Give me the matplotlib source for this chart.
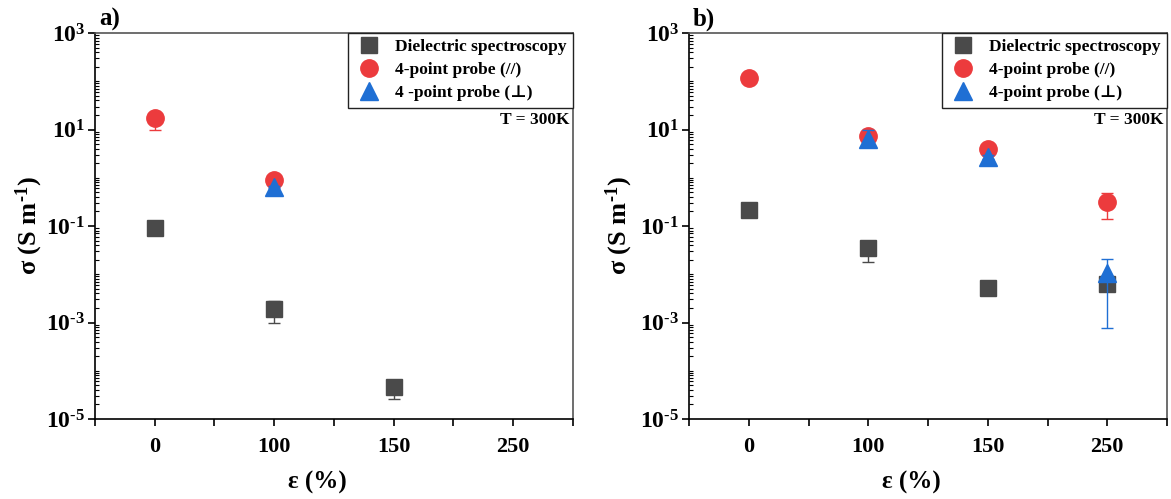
import matplotlib as mpl
mpl.use('Agg')
import matplotlib.pyplot as plt
from matplotlib.ticker import LogLocator, NullFormatter, FixedLocator
from matplotlib.lines import Line2D
import numpy as np

plt.rcParams['font.family'] = ['Liberation Serif', 'DejaVu Serif']
plt.rcParams['font.weight'] = 'bold'
plt.rcParams['mathtext.fontset'] = 'custom'
plt.rcParams['mathtext.rm'] = 'Liberation Serif:bold'
plt.rcParams['mathtext.it'] = 'Liberation Serif:bold'
plt.rcParams['mathtext.bf'] = 'Liberation Serif:bold'
plt.rcParams['mathtext.default'] = 'bf'

strain = ['0', '100', '150', '250']
nan = np.nan

# panel a) value, lower end, upper end of error bar
a_diel = [0.093, 0.0019, 4.7e-5, nan]
a_diel_lo = [0.066, 0.00098, 2.6e-5, nan]
a_diel_hi = [0.10, 0.0028, 5.0e-5, nan]
a_par = [17.5, 0.9, nan, nan]
a_par_lo = [9.9, 0.85, nan, nan]
a_par_hi = [18.5, 0.95, nan, nan]
a_perp = [nan, 0.63, nan, nan]
a_perp_lo = [nan, 0.6, nan, nan]
a_perp_hi = [nan, 0.66, nan, nan]

# panel b)
b_diel = [0.22, 0.035, 0.0051, 0.0062]
b_diel_lo = [0.21, 0.018, 0.0050, 0.0060]
b_diel_hi = [0.25, 0.04, 0.0052, 0.0064]
b_par = [117, 7.4, 4.0, 0.31]
b_par_lo = [115, 6.0, 3.0, 0.138]
b_par_hi = [120, 8.0, 4.3, 0.48]
b_perp = [nan, 6.4, 2.7, 0.0105]
b_perp_lo = [nan, 5.5, 2.5, 0.00076]
b_perp_hi = [nan, 10.0, 3.0, 0.0204]

gray = '#4a4a4a'
red = '#ec3b3d'
blue = '#1f6fd4'
H = '\u2010'  # short hyphen used in superscripts


def errs(v, lo, hi):
    v = np.array(v)
    return [v - np.array(lo), np.array(hi) - v]


def panel(ax, diel, par, perp, tag, labels, ylab_x):
    x = np.arange(len(strain))
    ax.errorbar(x, diel[0], yerr=errs(*diel), fmt='s', color=gray, ms=11,
                capsize=4, elinewidth=1, capthick=1, zorder=3)
    ax.errorbar(x, par[0], yerr=errs(*par), fmt='o', color=red, ms=12.5,
                capsize=4, elinewidth=1, capthick=1, zorder=4)
    ax.errorbar(x, perp[0], yerr=errs(*perp), fmt='^', color=blue, ms=13,
                capsize=4, elinewidth=1, capthick=1, zorder=5)
    ax.set_yscale('log')
    ax.set_ylim(1e-5, 1e3)
    ax.set_xlim(-0.5, 3.5)
    ax.set_xticks(x)
    ax.set_xticklabels(strain, fontsize=16, fontweight='bold')
    ax.xaxis.set_minor_locator(FixedLocator([-0.5, 0.5, 1.5, 2.5, 3.5]))
    ax.tick_params(axis='x', which='both', direction='out', length=5, width=1.2, pad=8)
    ax.set_yticks([1e-5, 1e-3, 1e-1, 1e1, 1e3])
    ax.set_yticklabels(['$10^{%s5}$' % H, '$10^{%s3}$' % H, '$10^{%s1}$' % H,
                        '$10^{1}$', '$10^{3}$'], fontsize=17)
    ax.yaxis.set_minor_locator(LogLocator(base=10, subs=np.arange(1, 10), numticks=50))
    ax.yaxis.set_minor_formatter(NullFormatter())
    ax.tick_params(axis='y', which='major', direction='out', length=5, width=1.2, pad=2)
    ax.tick_params(axis='y', which='minor', direction='in', length=3, width=0.8)
    for s in ax.spines.values():
        s.set_linewidth(1.2)
    ax.spines['top'].set_color('#555555')
    ax.spines['right'].set_color('#555555')
    ax.set_xlabel('ε (%)', fontsize=18, fontweight='bold')
    ax.xaxis.set_label_coords(0.465, -0.135)
    ax.set_ylabel('σ (S m$^{%s1}$)' % H, fontsize=19, fontweight='bold')
    ax.yaxis.set_label_coords(ylab_x, 0.5)
    handles = [
        Line2D([], [], ls='none', marker='s', ms=11, color=gray),
        Line2D([], [], ls='none', marker='o', ms=12.5, color=red),
        Line2D([], [], ls='none', marker='^', ms=13, color=blue),
    ]
    leg = ax.legend(handles, labels, loc='upper right', borderaxespad=0, fancybox=False,
                    framealpha=1, edgecolor='#222222',
                    prop={'size': 12.5, 'weight': 'bold'},
                    handletextpad=0.6, labelspacing=0.4, borderpad=0.35,
                    handlelength=1.8)
    leg.get_frame().set_linewidth(1.0)
    ax.text(0.992, 0.775, 'T = 300K', transform=ax.transAxes, ha='right', va='center',
            fontsize=12.5, fontweight='bold')
    ax.text(0.008, 1.02, tag, transform=ax.transAxes, ha='left', va='baseline',
            fontsize=18, fontweight='bold')


fig = plt.figure(figsize=(11.71, 4.99), dpi=100)
ax1 = fig.add_axes([0.0811, 0.1603, 0.4082, 0.7735])
ax2 = fig.add_axes([0.5884, 0.1603, 0.4082, 0.7735])

panel(ax1, (a_diel, a_diel_lo, a_diel_hi), (a_par, a_par_lo, a_par_hi),
      (a_perp, a_perp_lo, a_perp_hi), 'a)',
      ['Dielectric spectroscopy', '4-point probe (//)', '4 -point probe (⊥)'], -0.105)
panel(ax2, (b_diel, b_diel_lo, b_diel_hi), (b_par, b_par_lo, b_par_hi),
      (b_perp, b_perp_lo, b_perp_hi), 'b)',
      ['Dielectric spectroscopy', '4-point probe (//)', '4-point probe (⊥)'], -0.113)

fig.savefig('out.png', dpi=100)
